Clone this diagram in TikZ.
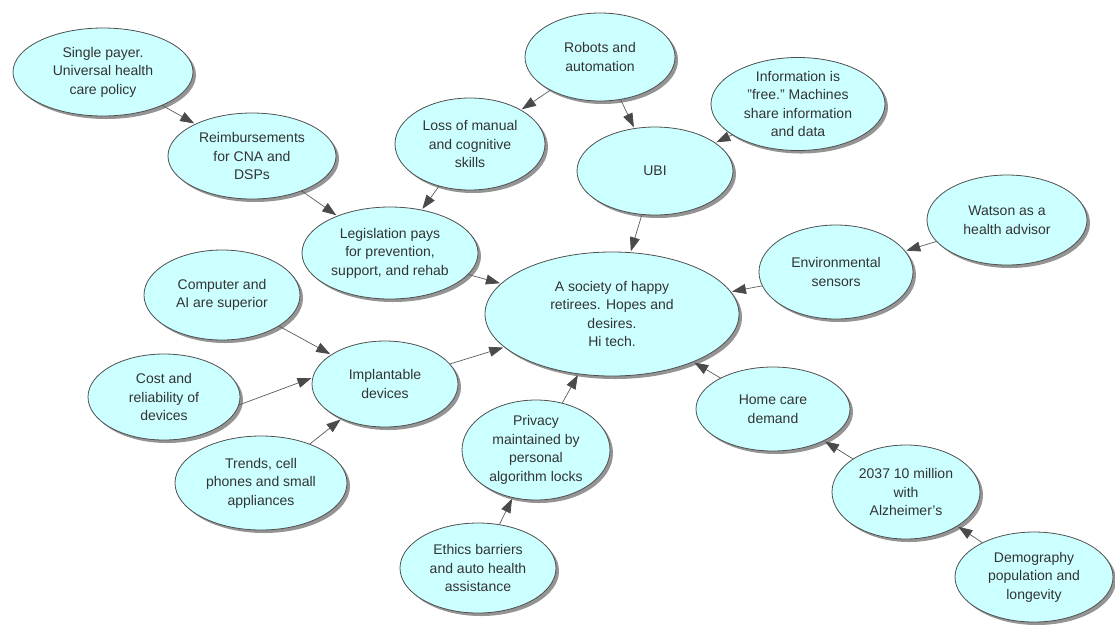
\documentclass[tikz,border=0pt]{standalone}
\usepackage{fontspec}
\setmainfont{Liberation Sans}
\usetikzlibrary{shapes.geometric,arrows.meta,shadows}
\definecolor{bubble}{HTML}{CCFFFF}
\definecolor{rim}{HTML}{505050}
\definecolor{ink}{HTML}{333333}
\definecolor{linkc}{HTML}{5A5A5A}
\definecolor{headc}{HTML}{4A4A4A}
\tikzset{
  idea/.style={ellipse, draw=rim, line width=0.8pt, fill=bubble, inner sep=0pt,
    align=center, text=ink, font=\fontsize{14}{18.5}\selectfont,
    drop shadow={shadow xshift=3pt, shadow yshift=-3pt, fill=black!42, opacity=1}},
  link/.style={draw=linkc, line width=0.7pt,
    -{Triangle[length=14pt,width=10pt,color=headc,fill=headc]}, shorten >=1pt}
}
\newcommand{\sq}{\symbol{34}}
\begin{document}
\begin{tikzpicture}[x=1pt,y=-1pt]
\useasboundingbox (0,0) rectangle (1115,625);

% concept bubbles: centre, then full width and height
\node[idea, minimum width=180, minimum height=88] (single) at (103,72) {Single payer.\\Universal health\\care policy};
\node[idea, minimum width=168, minimum height=86] (reimb) at (252,156) {Reimbursements\\for CNA and\\DSPs};
\node[idea, minimum width=150, minimum height=88] (robots) at (600,57) {Robots and\\automation};
\node[idea, minimum width=150, minimum height=92] (loss) at (470,144) {Loss of manual\\and cognitive\\skills};
\node[idea, minimum width=156, minimum height=88] (ubi) at (655,171) {UBI};
\node[idea, minimum width=174, minimum height=88] (info) at (798,104) {Information is\\\sq free.\sq{} Machines\\share information\\and data};
\node[idea, minimum width=176, minimum height=92] (legis) at (390,253) {Legislation pays\\for prevention,\\support, and rehab};
\node[idea, minimum width=254, minimum height=124] (hub) at (612,314) {A society of happy\\retirees. Hopes and\\desires.\\Hi tech.};
\node[idea, minimum width=154, minimum height=94] (env) at (836,272) {Environmental\\sensors};
\node[idea, minimum width=160, minimum height=90] (watson) at (1007,220) {Watson as a\\health advisor};
\node[idea, minimum width=156, minimum height=90] (comp) at (222,295) {Computer and\\AI are superior};
\node[idea, minimum width=146, minimum height=86] (impl) at (385,384) {Implantable\\devices};
\node[idea, minimum width=152, minimum height=86] (cost) at (164,397) {Cost and\\reliability of\\devices};
\node[idea, minimum width=172, minimum height=94] (trends) at (261,483) {Trends, cell\\phones and small\\appliances};
\node[idea, minimum width=148, minimum height=100] (privacy) at (536,450) {Privacy\\maintained by\\personal\\algorithm locks};
\node[idea, minimum width=156, minimum height=90] (ethics) at (478,568) {Ethics barriers\\and auto health\\assistance};
\node[idea, minimum width=154, minimum height=84] (home) at (773,409) {Home care\\demand};
\node[idea, minimum width=148, minimum height=94] (alz) at (906,492) {2037 10 million\\with\\Alzheimer's};
\node[idea, minimum width=158, minimum height=90] (demo) at (1034,577) {Demography\\population and\\longevity};

% links between concepts
\draw[link] (single) -- (reimb);
\draw[link] (reimb) -- (legis);
\draw[link] (robots) -- (loss);
\draw[link] (robots) -- (ubi);
\draw[link] (info) -- (ubi);
\draw[link] (loss) -- (legis);
\draw[link] (ubi) -- (hub);
\draw[link] (legis) -- (hub);
\draw[link] (watson) -- (env);
\draw[link] (env) -- (hub);
\draw[link] (comp) -- (impl);
\draw[link] (cost.-6) -- (impl.175);
\draw[link] (trends) -- (impl);
\draw[link] (impl) -- (hub);
\draw[link] (privacy) -- (hub);
\draw[link] (ethics) -- (privacy);
\draw[link] (home) -- (hub);
\draw[link] (alz) -- (home);
\draw[link] (demo) -- (alz);
\end{tikzpicture}
\end{document}
